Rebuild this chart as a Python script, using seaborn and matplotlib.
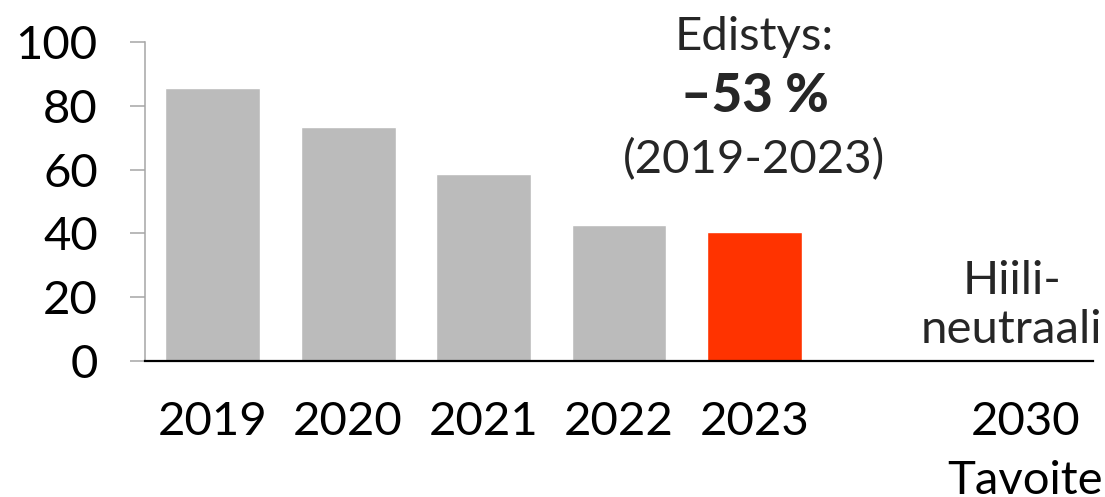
import matplotlib
matplotlib.use('Agg')
import matplotlib.pyplot as plt
import seaborn as sns
import numpy as np
import pandas as pd

# Data
years = ['2019', '2020', '2021', '2022', '2023', ' ', '2030\nTavoite']
values = [85.5, 73.3, 58.5, 42.6, 40.3, np.nan, 0.0]
colors = ['#bbbbbb', '#bbbbbb', '#bbbbbb', '#bbbbbb', '#ff3300', '#bbbbbb', '#bbbbbb']
yticks = [0, 20, 40, 60, 80, 100]

df = pd.DataFrame({'year': years, 'value': values})

sns.set_theme(style='white')
plt.rcParams['font.family'] = ['Lato', 'DejaVu Sans']

fig = plt.figure(figsize=(11.05, 4.97), dpi=100)
ax = fig.add_axes([0.1312, 0.2736, 0.8579, 0.6419])

sns.barplot(data=df, x='year', y='value', hue='year', order=years,
            palette=dict(zip(years, colors)), legend=False,
            width=0.7, saturation=1, ax=ax)

ax.set_xlim(-0.5, 6.5)
ax.set_ylim(0, 100)
ax.set_yticks(yticks)
ax.set_xlabel('')
ax.set_ylabel('')

sns.despine(ax=ax)
ax.spines['left'].set_color('#a6a6a6')
ax.spines['left'].set_linewidth(1.1)
ax.spines['bottom'].set_color('black')
ax.spines['bottom'].set_linewidth(1.6)

ax.tick_params(axis='y', length=11, width=1.1, color='#a6a6a6', pad=23,
               labelsize=34, labelcolor='black', left=True)
ax.tick_params(axis='x', length=0, pad=29, labelsize=34, labelcolor='black')
for lbl in ax.get_xticklabels():
    lbl.set_linespacing(1.5)

# Progress annotation
ax.text(4, 101.6, 'Edistys:', ha='center', va='center', fontsize=34, clip_on=False)
ax.text(4, 82.8, '–53 %', ha='center', va='center', fontsize=38,
        fontweight='black', clip_on=False)
ax.text(4, 63, '(2019-2023)', ha='center', va='center', fontsize=34, clip_on=False)

# Target label
ax.text(5.9, 17.3, 'Hiili-\nneutraali', ha='center', va='center', fontsize=34,
        linespacing=1.2, clip_on=False)

fig.savefig('out.png', dpi=100)
